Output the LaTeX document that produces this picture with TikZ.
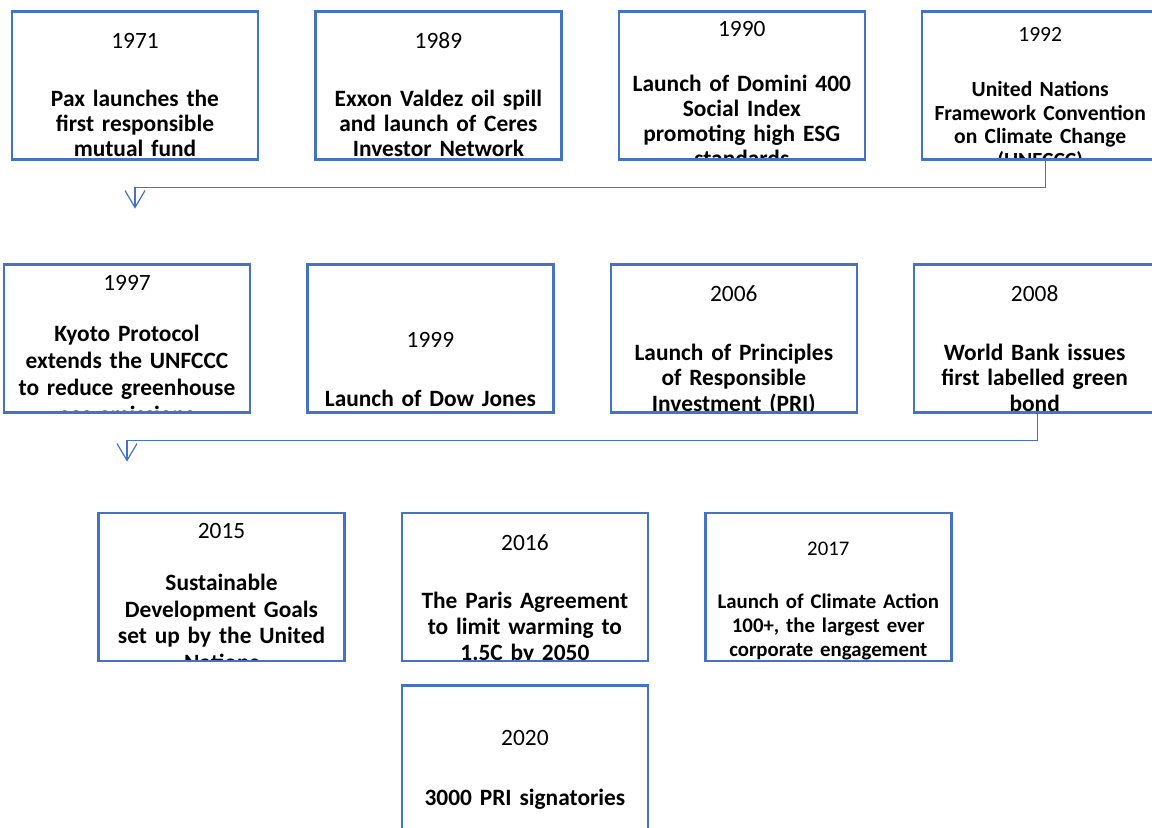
\documentclass[tikz,border=0pt]{standalone}
\usepackage{fontspec}
\setmainfont{Carlito}
\usepackage{tikz}
\usetikzlibrary{positioning,arrows.meta}
\usepackage{xcolor}
\definecolor{evblue}{HTML}{4472C4}

\begin{document}
\begin{tikzpicture}[>={Straight Barb[length=8.5pt,width=10pt]},node distance=11pt and 27.5pt,
  ev/.style={draw=evblue,line width=1.2pt,minimum width=123pt,minimum height=74pt,inner sep=0pt},
  evtext/.style={draw=none,minimum width=0pt,minimum height=0pt,text width=121pt,align=center,
    inner sep=0pt,font=\fontsize{11.7}{12.5}\selectfont},
  flow/.style={->,draw=evblue,line width=0.6pt}]
\clip (0,0) rectangle (576pt,-413.5pt);

\node[ev,path picture={\node[evtext,below=10.3pt] at (path picture bounding box.north)
  {1971\\[16.5pt]\bfseries Pax launches the\\first responsible\\mutual fund};}] (e1971) at (67.5pt,-42.75pt) {};
\node[ev,right=of e1971,path picture={\node[evtext,below=9.8pt] at (path picture bounding box.north)
  {1989\\[16.5pt]\bfseries Exxon Valdez oil spill\\and launch of Ceres\\Investor Network};}] (e1989) {};
\node[ev,right=of e1989,path picture={\node[evtext,below=4.3pt] at (path picture bounding box.north)
  {1990\\[15pt]\bfseries Launch of Domini 400\\Social Index\\promoting high ESG\\standards};}] (e1990) {};
\node[ev,right=of e1990,path picture={\node[evtext,below=7.55pt,xshift=-2.5pt,font=\fontsize{10.8}{11.75}\selectfont] at (path picture bounding box.north)
  {1992\\[15.75pt]\bfseries United Nations\\Framework Convention\\on Climate Change\\(UNFCCC)};}] (e1992) {};

\node[ev,path picture={\node[evtext,below=4.8pt,font=\fontsize{11.7}{13.5}\selectfont] at (path picture bounding box.north)
  {1997\\[12pt]\bfseries Kyoto Protocol\\extends the UNFCCC\\to reduce greenhouse\\gas emissions};}] (e1997) at (63.5pt,-169.25pt) {};
\node[ev,right=of e1997,path picture={\node[evtext,below=33.3pt] at (path picture bounding box.north)
  {1999\\[17pt]\bfseries Launch of Dow Jones};}] (e1999) {};
\node[ev,right=of e1999,path picture={\node[evtext,below=9.8pt,font=\fontsize{11.7}{12.75}\selectfont] at (path picture bounding box.north)
  {2006\\[16.75pt]\bfseries Launch of Principles\\of Responsible\\Investment (PRI)};}] (e2006) {};
\node[ev,right=of e2006,path picture={\node[evtext,below=9.8pt,xshift=-1.25pt,font=\fontsize{11.7}{12.75}\selectfont] at (path picture bounding box.north)
  {2008\\[16.75pt]\bfseries World Bank issues\\first labelled green\\bond};}] (e2008) {};

\node[ev,path picture={\node[evtext,below=4.8pt,font=\fontsize{11.7}{13.25}\selectfont] at (path picture bounding box.north)
  {2015\\[12.75pt]\bfseries Sustainable\\Development Goals\\set up by the United\\Nations};}] (e2015) at (110.75pt,-293.5pt) {};
\node[ev,right=of e2015,path picture={\node[evtext,below=10.3pt,font=\fontsize{11.7}{13}\selectfont] at (path picture bounding box.north)
  {2016\\[16pt]\bfseries The Paris Agreement\\to limit warming to\\1.5C by 2050};}] (e2016) {};
\node[ev,right=of e2016,path picture={\node[evtext,below=13.7pt,font=\fontsize{10.4}{12}\selectfont] at (path picture bounding box.north)
  {2017\\[14.5pt]\bfseries Launch of Climate Action\\100+, the largest ever\\corporate engagement};}] (e2017) {};
\node[ev,below=of e2016,path picture={\node[evtext,below=22pt] at (path picture bounding box.north)
  {2020\\[17.5pt]\bfseries 3000 PRI signatories};}] (e2020) {};

\coordinate (a1) at ([yshift=-24pt]e1971.south);
\coordinate (a2) at ([yshift=-24pt]e1997.south);
\draw[flow] (e1992.south) -- ++(0,-13.5pt) -| (a1);
\draw[flow] (e2008.south) -- ++(0,-13.5pt) -| (a2);
\end{tikzpicture}
\end{document}
